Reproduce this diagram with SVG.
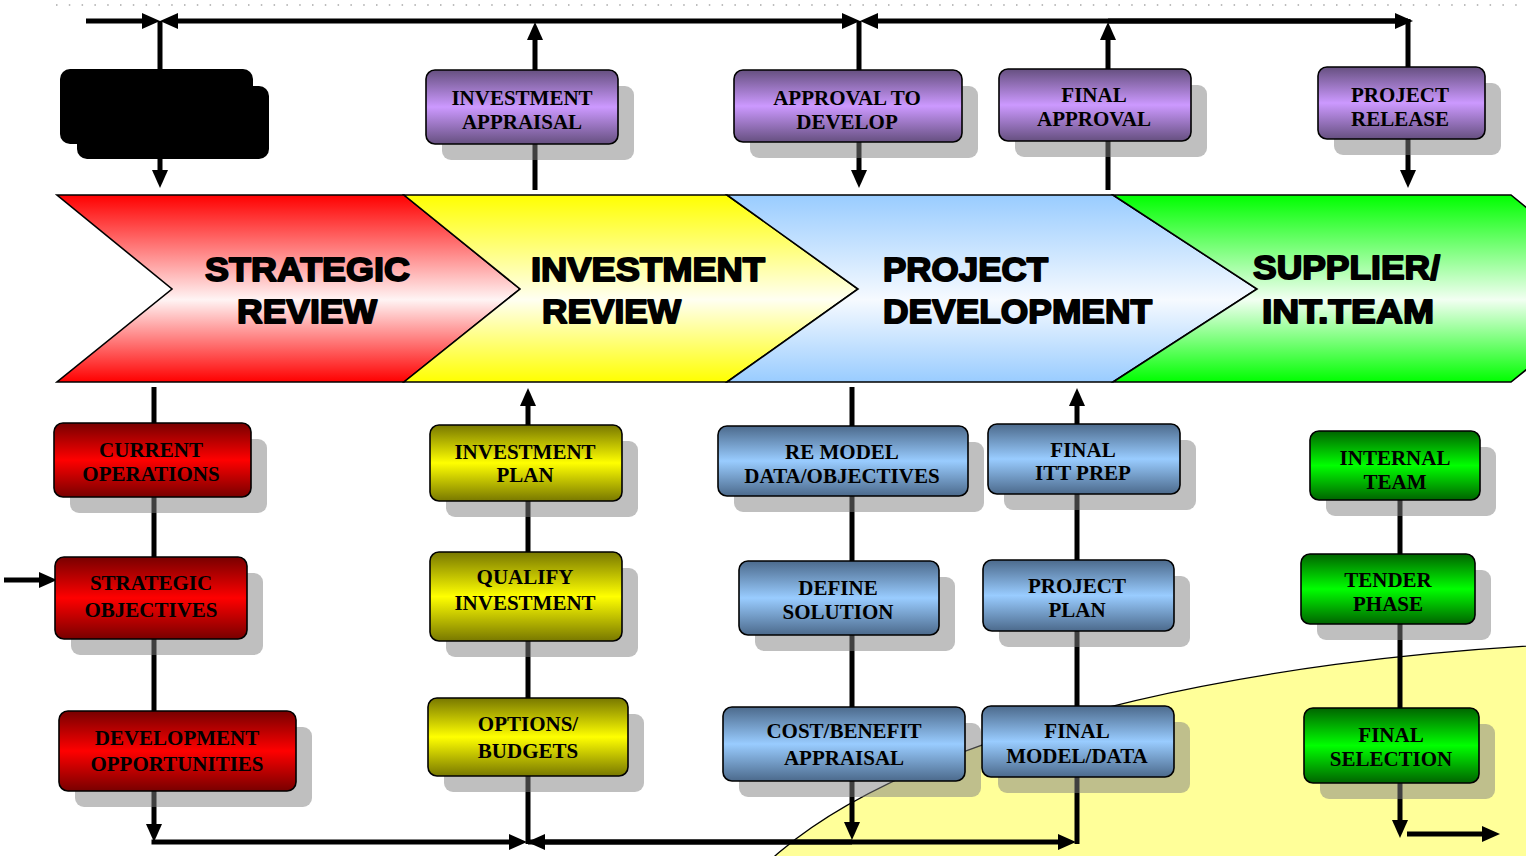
<svg xmlns="http://www.w3.org/2000/svg" width="1526" height="856" viewBox="0 0 1526 856">
<style>
.ln{stroke:#000;stroke-width:5;fill:none}
.la{stroke:#000;stroke-width:5;fill:none;marker-end:url(#ah)}
.sh{fill:#808080;fill-opacity:0.5}
.bx{stroke:#000;stroke-width:1.6}
.bt{font-family:"Liberation Serif","Times New Roman",serif;font-weight:bold;font-size:21px;text-anchor:middle;fill:#000}
.ct{font-family:"Liberation Sans",Arial,sans-serif;font-weight:bold;font-size:34px;fill:#000;stroke:#000;stroke-width:1.8;stroke-linejoin:round}
.cv{stroke:#000;stroke-width:1.6;stroke-linejoin:miter}
</style>
<defs>
<marker id="ah" viewBox="0 0 18 16" refX="10" refY="8" markerWidth="18" markerHeight="16" markerUnits="userSpaceOnUse" orient="auto">
<path d="M0,0 L18,8 L0,16 z" fill="#000"/>
</marker>
<linearGradient id="gRed" x1="0" y1="0" x2="0" y2="1"><stop offset="0" stop-color="#ff0000"/><stop offset="0.56" stop-color="#fff4f4"/><stop offset="1" stop-color="#ff0000"/></linearGradient>
<linearGradient id="gYel" x1="0" y1="0" x2="0" y2="1"><stop offset="0" stop-color="#ffff00"/><stop offset="0.56" stop-color="#fffff2"/><stop offset="1" stop-color="#ffff00"/></linearGradient>
<linearGradient id="gBlu" x1="0" y1="0" x2="0" y2="1"><stop offset="0" stop-color="#99ccff"/><stop offset="0.56" stop-color="#f6faff"/><stop offset="1" stop-color="#99ccff"/></linearGradient>
<linearGradient id="gGrn" x1="0" y1="0" x2="0" y2="1"><stop offset="0" stop-color="#00ff00"/><stop offset="0.56" stop-color="#f2fff2"/><stop offset="1" stop-color="#00ff00"/></linearGradient>
<linearGradient id="bPur" x1="0" y1="0" x2="0" y2="1"><stop offset="0" stop-color="#665080"/><stop offset="0.5" stop-color="#cc99ff"/><stop offset="1" stop-color="#665080"/></linearGradient>
<linearGradient id="bRed" x1="0" y1="0" x2="0" y2="1"><stop offset="0" stop-color="#780000"/><stop offset="0.5" stop-color="#ff0000"/><stop offset="1" stop-color="#780000"/></linearGradient>
<linearGradient id="bYel" x1="0" y1="0" x2="0" y2="1"><stop offset="0" stop-color="#787800"/><stop offset="0.5" stop-color="#ffff00"/><stop offset="1" stop-color="#787800"/></linearGradient>
<linearGradient id="bBlu" x1="0" y1="0" x2="0" y2="1"><stop offset="0" stop-color="#4c6a8c"/><stop offset="0.5" stop-color="#99ccff"/><stop offset="1" stop-color="#4c6a8c"/></linearGradient>
<linearGradient id="bGrn" x1="0" y1="0" x2="0" y2="1"><stop offset="0" stop-color="#006400"/><stop offset="0.5" stop-color="#00ff00"/><stop offset="1" stop-color="#006400"/></linearGradient>
</defs>
<rect width="1526" height="856" fill="#fff"/>
<line x1="56" y1="5" x2="1526" y2="5" stroke="#a8a8a8" stroke-width="1.5" stroke-dasharray="1.5 11.3"/>
<ellipse id="bg-ellipse" cx="1700" cy="975" rx="990" ry="334" fill="#ffff99" stroke="#000" stroke-width="1.3"/>

<g id="chevrons">
<g id="ch-strategic">
<polygon class="cv" points="57,195 404,195 520,289 404,382 57,382 172,289" fill="url(#gRed)"/>
<text class="ct" x="205" y="281" textLength="205" lengthAdjust="spacingAndGlyphs">STRATEGIC</text>
<text class="ct" x="237" y="323" textLength="140" lengthAdjust="spacingAndGlyphs">REVIEW</text>
</g>
<g id="ch-investment">
<polygon class="cv" points="404,195 727,195 858,289 727,382 404,382 520,289" fill="url(#gYel)"/>
<text class="ct" x="531" y="281" textLength="234" lengthAdjust="spacingAndGlyphs">INVESTMENT</text>
<text class="ct" x="542" y="323" textLength="139" lengthAdjust="spacingAndGlyphs">REVIEW</text>
</g>
<g id="ch-project">
<polygon class="cv" points="727,195 1113,195 1257,289 1113,382 727,382 858,289" fill="url(#gBlu)"/>
<text class="ct" x="883" y="281" textLength="165" lengthAdjust="spacingAndGlyphs">PROJECT</text>
<text class="ct" x="883" y="323" textLength="269" lengthAdjust="spacingAndGlyphs">DEVELOPMENT</text>
</g>
<g id="ch-supplier">
<polygon class="cv" points="1113,195 1511,195 1626,289 1511,382 1113,382 1257,289" fill="url(#gGrn)"/>
<text class="ct" x="1253" y="279" textLength="187" lengthAdjust="spacingAndGlyphs">SUPPLIER/</text>
<text class="ct" x="1262" y="323" textLength="172" lengthAdjust="spacingAndGlyphs">INT.TEAM</text>
</g>
</g>

<g id="connectors">
<line class="la" x1="86" y1="21" x2="152" y2="21"/>
<line class="la" x1="520" y1="21" x2="168" y2="21"/>
<line class="la" x1="520" y1="21" x2="852" y2="21"/>
<line class="la" x1="1408" y1="21" x2="868" y2="21"/>
<line class="la" x1="1108" y1="21" x2="1405" y2="21"/>
<line class="ln" x1="160" y1="21" x2="160" y2="100"/>
<line class="la" x1="160" y1="140" x2="160" y2="180"/>
<line class="la" x1="535" y1="190" x2="535" y2="30"/>
<line class="ln" x1="859" y1="21" x2="859" y2="100"/>
<line class="la" x1="859" y1="100" x2="859" y2="180"/>
<line class="la" x1="1108" y1="190" x2="1108" y2="30"/>
<line class="ln" x1="1408" y1="19" x2="1408" y2="100"/>
<line class="la" x1="1408" y1="100" x2="1408" y2="180"/>
<line class="la" x1="154" y1="387" x2="154" y2="834"/>
<line class="la" x1="151.5" y1="842" x2="519" y2="842"/>
<line class="la" x1="852" y1="842" x2="535" y2="842"/>
<line class="la" x1="528" y1="842" x2="1068" y2="842"/>
<line class="la" x1="528" y1="844" x2="528" y2="396"/>
<line class="la" x1="852" y1="387" x2="852" y2="832"/>
<line class="la" x1="1077" y1="844" x2="1077" y2="396"/>
<line class="la" x1="1400" y1="500" x2="1400" y2="830"/>
<line class="la" x1="1407" y1="834" x2="1492" y2="834"/>
<line class="la" x1="4" y1="580" x2="49" y2="580"/>
</g>

<g id="n-black">
<rect x="77" y="86" width="192" height="73" rx="10" fill="#000"/>
<rect x="60" y="69" width="193" height="75" rx="10" fill="#000"/>
</g>

<g id="n-investment-appraisal">
<rect class="sh" x="442" y="86" width="192" height="74" rx="9"/>
<rect class="bx" x="426" y="70" width="192" height="74" rx="9" fill="url(#bPur)"/>
<text class="bt" x="522" y="105">INVESTMENT</text><text class="bt" x="522" y="129">APPRAISAL</text>
</g>
<g id="n-approval-to-develop">
<rect class="sh" x="750" y="86" width="228" height="72" rx="9"/>
<rect class="bx" x="734" y="70" width="228" height="72" rx="9" fill="url(#bPur)"/>
<text class="bt" x="847" y="105">APPROVAL TO</text><text class="bt" x="847" y="129">DEVELOP</text>
</g>
<g id="n-final-approval">
<rect class="sh" x="1015" y="85" width="192" height="72" rx="9"/>
<rect class="bx" x="999" y="69" width="192" height="72" rx="9" fill="url(#bPur)"/>
<text class="bt" x="1094" y="102">FINAL</text><text class="bt" x="1094" y="126">APPROVAL</text>
</g>
<g id="n-project-release">
<rect class="sh" x="1334" y="83" width="167" height="72" rx="9"/>
<rect class="bx" x="1318" y="67" width="167" height="72" rx="9" fill="url(#bPur)"/>
<text class="bt" x="1400" y="102">PROJECT</text><text class="bt" x="1400" y="126">RELEASE</text>
</g>

<g id="n-current-operations">
<rect class="sh" x="70" y="439" width="197" height="74" rx="9"/>
<rect class="bx" x="54" y="423" width="197" height="74" rx="9" fill="url(#bRed)"/>
<text class="bt" x="151" y="457">CURRENT</text><text class="bt" x="151" y="481">OPERATIONS</text>
</g>
<g id="n-strategic-objectives">
<rect class="sh" x="71" y="573" width="192" height="82" rx="9"/>
<rect class="bx" x="55" y="557" width="192" height="82" rx="9" fill="url(#bRed)"/>
<text class="bt" x="151" y="590">STRATEGIC</text><text class="bt" x="151" y="617">OBJECTIVES</text>
</g>
<g id="n-development-opportunities">
<rect class="sh" x="75" y="727" width="237" height="80" rx="9"/>
<rect class="bx" x="59" y="711" width="237" height="80" rx="9" fill="url(#bRed)"/>
<text class="bt" x="177" y="745">DEVELOPMENT</text><text class="bt" x="177" y="771">OPPORTUNITIES</text>
</g>

<g id="n-investment-plan">
<rect class="sh" x="446" y="441" width="192" height="76" rx="9"/>
<rect class="bx" x="430" y="425" width="192" height="76" rx="9" fill="url(#bYel)"/>
<text class="bt" x="525" y="459">INVESTMENT</text><text class="bt" x="525" y="482">PLAN</text>
</g>
<g id="n-qualify-investment">
<rect class="sh" x="446" y="568" width="192" height="89" rx="9"/>
<rect class="bx" x="430" y="552" width="192" height="89" rx="9" fill="url(#bYel)"/>
<text class="bt" x="525" y="584">QUALIFY</text><text class="bt" x="525" y="610">INVESTMENT</text>
</g>
<g id="n-options-budgets">
<rect class="sh" x="444" y="714" width="200" height="78" rx="9"/>
<rect class="bx" x="428" y="698" width="200" height="78" rx="9" fill="url(#bYel)"/>
<text class="bt" x="528" y="731">OPTIONS/</text><text class="bt" x="528" y="758">BUDGETS</text>
</g>

<g id="n-re-model">
<rect class="sh" x="734" y="442" width="250" height="70" rx="9"/>
<rect class="bx" x="718" y="426" width="250" height="70" rx="9" fill="url(#bBlu)"/>
<text class="bt" x="842" y="459">RE MODEL</text><text class="bt" x="842" y="483">DATA/OBJECTIVES</text>
</g>
<g id="n-define-solution">
<rect class="sh" x="755" y="577" width="200" height="74" rx="9"/>
<rect class="bx" x="739" y="561" width="200" height="74" rx="9" fill="url(#bBlu)"/>
<text class="bt" x="838" y="595">DEFINE</text><text class="bt" x="838" y="619">SOLUTION</text>
</g>
<g id="n-cost-benefit">
<rect class="sh" x="739" y="723" width="242" height="74" rx="9"/>
<rect class="bx" x="723" y="707" width="242" height="74" rx="9" fill="url(#bBlu)"/>
<text class="bt" x="844" y="738">COST/BENEFIT</text><text class="bt" x="844" y="765">APPRAISAL</text>
</g>
<g id="n-final-itt-prep">
<rect class="sh" x="1004" y="440" width="192" height="70" rx="9"/>
<rect class="bx" x="988" y="424" width="192" height="70" rx="9" fill="url(#bBlu)"/>
<text class="bt" x="1083" y="457">FINAL</text><text class="bt" x="1083" y="480">ITT PREP</text>
</g>
<g id="n-project-plan">
<rect class="sh" x="999" y="576" width="191" height="71" rx="9"/>
<rect class="bx" x="983" y="560" width="191" height="71" rx="9" fill="url(#bBlu)"/>
<text class="bt" x="1077" y="593">PROJECT</text><text class="bt" x="1077" y="617">PLAN</text>
</g>
<g id="n-final-model-data">
<rect class="sh" x="998" y="722" width="192" height="71" rx="9"/>
<rect class="bx" x="982" y="706" width="192" height="71" rx="9" fill="url(#bBlu)"/>
<text class="bt" x="1077" y="738">FINAL</text><text class="bt" x="1077" y="763">MODEL/DATA</text>
</g>

<g id="n-internal-team">
<rect class="sh" x="1326" y="447" width="170" height="69" rx="9"/>
<rect class="bx" x="1310" y="431" width="170" height="69" rx="9" fill="url(#bGrn)"/>
<text class="bt" x="1395" y="465">INTERNAL</text><text class="bt" x="1395" y="489">TEAM</text>
</g>
<g id="n-tender-phase">
<rect class="sh" x="1317" y="570" width="174" height="70" rx="9"/>
<rect class="bx" x="1301" y="554" width="174" height="70" rx="9" fill="url(#bGrn)"/>
<text class="bt" x="1388" y="587">TENDER</text><text class="bt" x="1388" y="611">PHASE</text>
</g>
<g id="n-final-selection">
<rect class="sh" x="1320" y="724" width="175" height="75" rx="9"/>
<rect class="bx" x="1304" y="708" width="175" height="75" rx="9" fill="url(#bGrn)"/>
<text class="bt" x="1391" y="742">FINAL</text><text class="bt" x="1391" y="766">SELECTION</text>
</g>
</svg>
